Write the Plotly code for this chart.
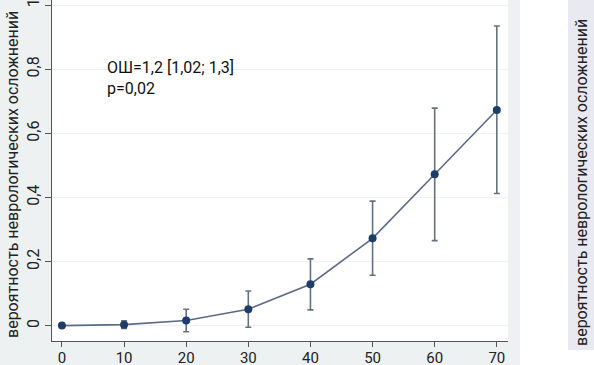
import plotly.graph_objects as go

x_vals = [0, 10, 20, 30, 40, 50, 60, 70]
prob = [0.001, 0.004, 0.017, 0.052, 0.130, 0.273, 0.473, 0.673]
ci_upper = [0.004, 0.016, 0.052, 0.109, 0.209, 0.389, 0.679, 0.935]
ci_lower = [-0.002, -0.008, -0.018, -0.004, 0.050, 0.158, 0.266, 0.413]
y_ticks = [0, 0.2, 0.4, 0.6, 0.8, 1]
y_ticklabels = ["0", "0,2", "0,4", "0,6", "0,8", "1"]
x_ticks = [0, 10, 20, 30, 40, 50, 60, 70]
y_title = "вероятность неврологических осложнений"
note_lines = ["ОШ=1,2 [1,02; 1,3]", "p=0,02"]

err_plus = [u - p for u, p in zip(ci_upper, prob)]
err_minus = [p - l for p, l in zip(prob, ci_lower)]

FONT = "Roboto, Liberation Sans, Arial, sans-serif"

W, H = 594, 365
L, R, T, B = 52, 86, 0, 24
PW, PH = W - L - R, H - T - B

fig = go.Figure()
fig.add_trace(go.Scatter(
    x=x_vals, y=prob, mode="lines+markers",
    line=dict(color="#5b6b86", width=1.6),
    marker=dict(color="#1d3d6b", size=8),
    error_y=dict(type="data", symmetric=False, array=err_plus, arrayminus=err_minus,
                 color="#66717e", thickness=1.6, width=3),
    showlegend=False,
))

fig.update_layout(
    width=W, height=H,
    margin=dict(l=L, r=R, t=T, b=B, autoexpand=False),
    paper_bgcolor="#edf1f2",
    plot_bgcolor="white",
    font=dict(family=FONT, size=16, color="#222"),
    xaxis=dict(range=[-1.6, 71.8], tickvals=x_ticks, ticks="outside", ticklen=5,
               tickcolor="#555", showline=True, linecolor="#555", linewidth=1.2,
               showgrid=False, zeroline=False, automargin=False,
               ticklabeloverflow="allow", ticklabelstandoff=-2,
               tickfont=dict(size=15, color="#222")),
    yaxis=dict(range=[-0.047, 1.016], tickvals=y_ticks, ticktext=y_ticklabels,
               ticks="outside", ticklen=6, tickcolor="#555", tickangle=-90,
               showline=True, linecolor="#555", linewidth=1.2, automargin=False,
               ticklabeloverflow="allow",
               showgrid=True, gridcolor="#eef1f1", gridwidth=1, zeroline=False,
               tickfont=dict(size=16, color="#222")),
    shapes=[
        dict(type="rect", xref="paper", yref="paper",
             x0=(520 - L) / PW, x1=(W - L) / PW,
             y0=-B / PH, y1=1.0,
             fillcolor="white", line=dict(width=0), layer="below"),
        dict(type="rect", xref="paper", yref="paper",
             x0=(568 - L) / PW, x1=(W - L) / PW,
             y0=(H - 350 - B) / PH, y1=1.0,
             fillcolor="#e9e9f1", line=dict(width=0), layer="below"),
    ],
    annotations=[
        dict(text=y_title, xref="paper", yref="paper",
             x=(12 - L) / PW, y=(H - 175 - B) / PH,
             xanchor="center", yanchor="middle",
             textangle=-90, showarrow=False, font=dict(size=16, color="#222")),
        dict(text=y_title, xref="paper", yref="paper",
             x=(581 - L) / PW, y=(H - 183 - B) / PH,
             xanchor="center", yanchor="middle",
             textangle=-90, showarrow=False, font=dict(size=16, color="#222")),
        dict(text="<br>".join(note_lines), x=7.0, y=0.84, xref="x", yref="y",
             xanchor="left", yanchor="top", align="left", showarrow=False,
             font=dict(size=16, color="#111")),
    ],
)

fig.write_html("out.html", post_script="document.body.style.margin='0';",
               config={"displayModeBar": False})
